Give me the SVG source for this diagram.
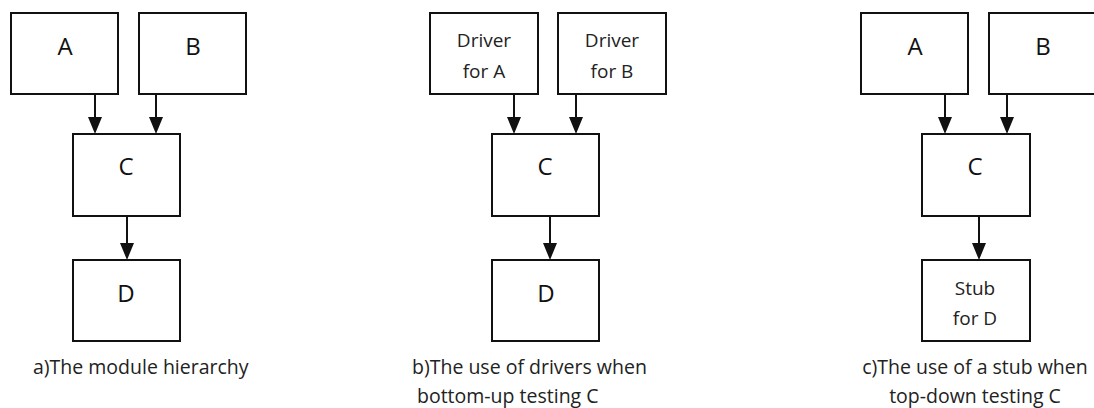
<svg xmlns="http://www.w3.org/2000/svg" width="1094" height="408" viewBox="0 0 1094 408">
<style>
.box{fill:#fff;stroke:#111;stroke-width:2}
.big{font-family:"Open Sans","Liberation Sans",sans-serif;font-size:24px;fill:#111;text-anchor:middle}
.sm{font-family:"Open Sans","Liberation Sans",sans-serif;font-size:19px;fill:#222;text-anchor:middle}
.cap{font-family:"Open Sans","Liberation Sans",sans-serif;font-size:19.5px;fill:#222}
.edge{stroke:#111;stroke-width:2;fill:none}
.head{fill:#111}
</style>
<rect width="1094" height="408" fill="#fff"/>
<g id="a-A"><rect class="box" x="11" y="13" width="107" height="81"/><text class="big" x="65" y="55">A</text></g>
<g id="a-B"><rect class="box" x="139" y="13" width="107" height="81"/><text class="big" x="193" y="55">B</text></g>
<g id="a-C"><rect class="box" x="73" y="134" width="107" height="82"/><text class="big" x="126" y="175">C</text></g>
<g id="a-D"><rect class="box" x="73" y="260" width="107" height="81"/><text class="big" x="126" y="302">D</text></g>
<g id="b-A"><rect class="box" x="430" y="13" width="108" height="81"/><text class="sm" x="484" y="47">Driver</text><text class="sm" x="484" y="78">for A</text></g>
<g id="b-B"><rect class="box" x="558" y="13" width="108" height="81"/><text class="sm" x="612" y="47">Driver</text><text class="sm" x="612" y="78">for B</text></g>
<g id="b-C"><rect class="box" x="492" y="134" width="107" height="82"/><text class="big" x="545" y="175">C</text></g>
<g id="b-D"><rect class="box" x="492" y="260" width="107" height="81"/><text class="big" x="546" y="302">D</text></g>
<g id="c-A"><rect class="box" x="861" y="13" width="107" height="81"/><text class="big" x="915" y="55">A</text></g>
<g id="c-B"><rect class="box" x="989" y="13" width="120" height="81"/><text class="big" x="1043" y="55">B</text></g>
<g id="c-C"><rect class="box" x="922" y="134" width="108" height="82"/><text class="big" x="975" y="175">C</text></g>
<g id="c-D"><rect class="box" x="922" y="260" width="108" height="81"/><text class="sm" x="975" y="295">Stub</text><text class="sm" x="975" y="325">for D</text></g>
<g id="connectors">
<path class="edge" d="M95 94V120M156 94V120M127 216V244"/>
<path class="head" d="M88 117h14l-7 17zM149 117h14l-7 17zM120 243h14l-7 17z"/>
<path class="edge" d="M514 94V120M576 94V120M550 216V244"/>
<path class="head" d="M507 117h14l-7 17zM569 117h14l-7 17zM543 243h14l-7 17z"/>
<path class="edge" d="M945 94V120M1007 94V120M979 216V244"/>
<path class="head" d="M938 117h14l-7 17zM1000 117h14l-7 17zM972 243h14l-7 17z"/>
</g>
<g id="captions">
<text class="cap" x="33" y="374">a)The module hierarchy</text>
<text class="cap" x="412" y="374">b)The use of drivers when</text>
<text class="cap" x="417" y="403">bottom-up testing C</text>
<text class="cap" x="975" y="374" text-anchor="middle">c)The use of a stub when</text>
<text class="cap" x="975" y="403" text-anchor="middle">top-down testing C</text>
</g>
</svg>
